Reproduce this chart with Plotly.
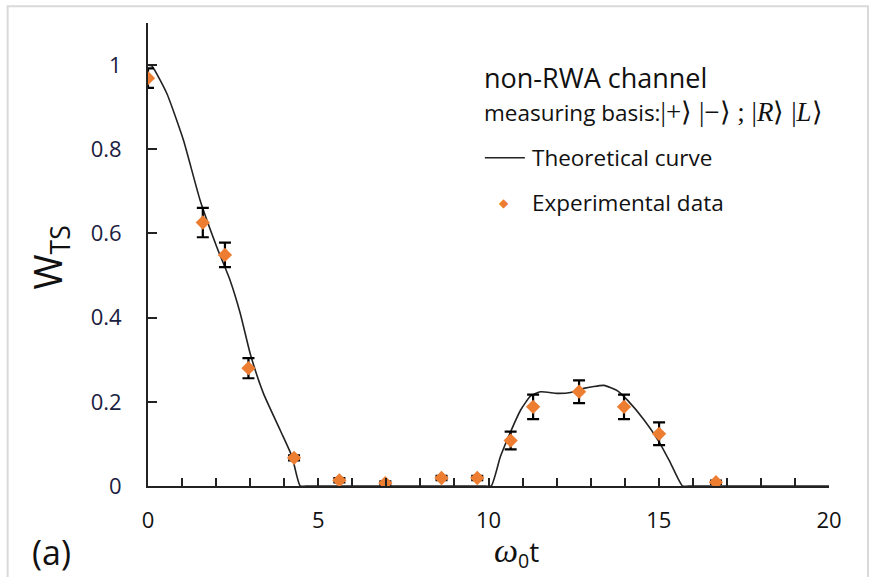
import plotly.graph_objects as go

# ---- data ----
theory_x = [0, 0.11, 0.55, 1.04, 1.53, 2.02, 2.41, 2.71, 3.0, 3.39, 3.88, 4.23, 4.47,
            4.7, 5.5, 7.0, 8.5, 9.85, 10.08, 10.35, 10.65, 10.94, 11.24, 11.53, 12.02, 12.41,
            12.8, 13.39, 13.79, 14.08, 14.57, 15.01, 15.35, 15.7, 15.95, 17.0, 20]
theory_y = [1.0, 0.998, 0.933, 0.822, 0.679, 0.568, 0.489, 0.41, 0.315, 0.22, 0.133, 0.07, 0.0,
            0.0, 0.0, 0.0, 0.0, 0.0, 0.0, 0.07, 0.129, 0.18, 0.214, 0.224, 0.22, 0.222,
            0.232, 0.239, 0.226, 0.204, 0.157, 0.105, 0.054, 0.0, 0.0, 0.0, 0.0]

exp_x = [0, 1.61, 2.26, 2.95, 4.29, 5.62, 6.97, 8.62, 9.67, 10.65, 11.31, 12.66, 13.98, 15.01, 16.68]
exp_y = [0.969, 0.626, 0.549, 0.280, 0.067, 0.0135, 0.007, 0.019, 0.019, 0.108, 0.188, 0.224,
         0.188, 0.124, 0.009]
exp_err = [0.023, 0.035, 0.029, 0.024, 0.006, 0.005, 0.004, 0.005, 0.005, 0.021, 0.029, 0.027,
           0.029, 0.027, 0.004]

x_tickvals = list(range(0, 21))
x_ticktext = [str(v) if v % 5 == 0 else "" for v in x_tickvals]
y_tickvals = [0, 0.2, 0.4, 0.6, 0.8, 1.0]
y_ticktext = ["0", "0.2", "0.4", "0.6", "0.8", "1"]

# ---- layout geometry (pixels) ----
W, H = 874, 577
L, R, T, B = 148.3, 829.0, 23.3, 486.0


def px(x):
    return (x - L) / (R - L)


def py(y):
    return (B - y) / (B - T)


ORANGE = "#ED7D31"
FONT = "Open Sans"
SERIF = "Liberation Serif"

fig = go.Figure()
fig.add_trace(go.Scatter(x=theory_x, y=theory_y, mode="lines",
                         line=dict(color="#222222", width=1.6, shape="spline", smoothing=0.5),
                         showlegend=False, hoverinfo="skip"))
fig.add_trace(go.Scatter(x=exp_x, y=exp_y, mode="markers",
                         marker=dict(symbol="diamond", size=11, color=ORANGE),
                         error_y=dict(type="data", array=exp_err, visible=True,
                                      color="black", thickness=2.2, width=6),
                         showlegend=False))

ann = []
ann.append(dict(text="non-RWA channel", x=px(482), y=py(78), xanchor="left", yanchor="middle",
                font=dict(size=27, family=FONT, color="#111")))
kets = ("measuring basis:"
        f"<span style='font-family:{SERIF};font-size:27px'>|+⟩ |−⟩ ; |<i>R</i>⟩ |<i>L</i>⟩</span>")
ann.append(dict(text=kets, x=px(482), y=py(113), xanchor="left", yanchor="middle",
                font=dict(size=22.5, family=FONT, color="#111")))
ann.append(dict(text="Theoretical curve", x=px(530), y=py(158), xanchor="left", yanchor="middle",
                font=dict(size=22.5, family=FONT, color="#111")))
ann.append(dict(text="Experimental data", x=px(530), y=py(203), xanchor="left", yanchor="middle",
                font=dict(size=22.5, family=FONT, color="#111")))
ann.append(dict(text="◆", x=px(504), y=py(203), xanchor="center", yanchor="middle",
                font=dict(size=12, family="DejaVu Sans", color=ORANGE)))
ann.append(dict(text="W<sub>TS</sub>", x=px(50), y=py(258), xanchor="center", yanchor="middle",
                textangle=-90, font=dict(size=38, family=FONT, color="#111")))
ann.append(dict(text=f"<span style='font-family:{SERIF};font-size:34px'><i>ω</i></span><sub>0</sub>t",
                x=px(517), y=py(553), xanchor="center", yanchor="middle",
                font=dict(size=28, family=FONT, color="#111")))
ann.append(dict(text="(a)", x=px(52), y=py(552), xanchor="center", yanchor="middle",
                font=dict(size=34, family=FONT, color="#111")))
for a in ann:
    a.update(xref="paper", yref="paper", showarrow=False)

shapes = [
    dict(type="line", xref="paper", yref="paper", x0=px(485), x1=px(525), y0=py(158), y1=py(158),
         line=dict(color="#222", width=1.6)),
    dict(type="rect", xref="paper", yref="paper", x0=px(8), x1=px(868), y0=py(6.5), y1=py(600),
         line=dict(color="#d9d9d9", width=2)),
]

fig.update_layout(
    width=W, height=H,
    margin=dict(l=L, r=W - R, t=T, b=H - B, pad=0),
    paper_bgcolor="white", plot_bgcolor="white",
    annotations=ann, shapes=shapes,
    xaxis=dict(range=[0, 20], tickvals=x_tickvals, ticktext=x_ticktext, ticks="inside",
               ticklen=8, tickwidth=1.5, tickcolor="#222", showline=True, linecolor="#222",
               linewidth=2, showgrid=False, zeroline=False, ticklabelstandoff=14,
               tickfont=dict(size=22, family=FONT, color="#111")),
    yaxis=dict(range=[0, 1.1], tickvals=y_tickvals, ticktext=y_ticktext, ticks="inside",
               ticklen=9, tickwidth=1.5, tickcolor="#222", showline=True, linecolor="#222",
               linewidth=2, showgrid=False, zeroline=False, ticklabelstandoff=20,
               tickfont=dict(size=22, family=FONT, color="#1a2040")),
)

fig.write_html("out.html")
